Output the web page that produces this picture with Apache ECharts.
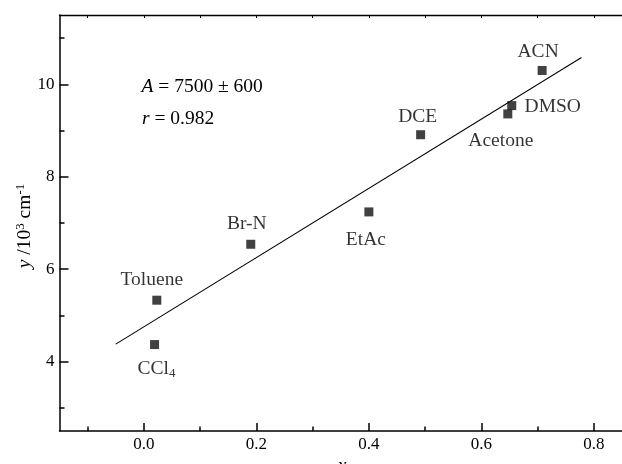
<!DOCTYPE html>
<html>
<head>
<meta charset="utf-8">
<script src="https://cdn.jsdelivr.net/npm/echarts@6/dist/echarts.min.js"></script>
<style>
html,body{margin:0;padding:0;background:#fff;}
#chart{width:622px;height:464px;}
</style>
</head>
<body>
<div id="chart"></div>
<script>
// ---- data ----
const solvents = ['Toluene', 'CCl4', 'Br-N', 'EtAc', 'DCE', 'Acetone', 'DMSO', 'ACN'];
const xValues  = [0.023, 0.019, 0.190, 0.400, 0.492, 0.647, 0.654, 0.708];
const yValues  = [5.33, 4.37, 6.54, 7.24, 8.91, 9.36, 9.54, 10.30];
const fitX = [-0.05, 0.778];
const fitY = [4.38, 10.58];
const xMajorTicks = [0.0, 0.2, 0.4, 0.6, 0.8];
const xMinorTicks = [-0.1, 0.1, 0.3, 0.5, 0.7];
const yMajorTicks = [4, 6, 8, 10];
const yMinorTicks = [3, 5, 7, 9, 11];
const annotationLines = ['{i|A} = 7500 ± 600', '{i|r} = 0.982'];

// ---- styling ----
const FONT = '"Liberation Serif", "Times New Roman", serif';
const INK = '#000';
const labelOffsets = {
  'Toluene': [-5, -20], 'CCl4': [2, 24], 'Br-N': [-4, -20], 'EtAc': [-3, 28],
  'DCE': [-3, -18], 'Acetone': [-7, 27], 'DMSO': [41, 1], 'ACN': [-4, -19]
};
const labelText = { 'CCl4': 'CCl{sub|4}' };

const points = solvents.map((n, i) => ({
  name: n,
  value: [xValues[i], yValues[i]],
  label: { offset: labelOffsets[n], formatter: labelText[n] || n }
}));

const chart = echarts.init(document.getElementById('chart'), null, {renderer: 'canvas'});
const GRID = { left: 59.5, top: 15, right: -3.5, bottom: 33 };
const axisLine = { show: true, onZero: false, lineStyle: { color: INK, width: 1.5 } };
const hiddenLine = { show: false, onZero: false };
const fmt1 = v => v.toFixed(1);

chart.setOption({
  animation: false,
  backgroundColor: '#fff',
  grid: Object.assign({ containLabel: false }, GRID),
  xAxis: [
    { type: 'value', min: -0.15, max: 0.85, position: 'bottom',
      axisLine: axisLine, splitLine: { show: false },
      axisTick: { show: true, inside: true, length: 8, customValues: xMajorTicks, lineStyle: { color: INK, width: 1.5 } },
      axisLabel: { show: true, customValues: xMajorTicks, formatter: fmt1, margin: 5, color: INK, fontFamily: FONT, fontSize: 17 } },
    { type: 'value', min: -0.15, max: 0.85, position: 'bottom',
      axisLine: hiddenLine, splitLine: { show: false },
      axisTick: { show: true, inside: true, length: 4.5, customValues: xMinorTicks, lineStyle: { color: INK, width: 1.5 } },
      axisLabel: { show: false } },
    { type: 'value', min: -0.15, max: 0.85, position: 'top',
      axisLine: { show: true, onZero: false, lineStyle: { color: INK, width: 1.3 } }, splitLine: { show: false },
      axisTick: { show: true, inside: true, length: 3, customValues: xMajorTicks.concat(xMinorTicks), lineStyle: { color: INK, width: 1 } },
      axisLabel: { show: false } }
  ],
  yAxis: [
    { type: 'value', min: 2.5, max: 11.5, position: 'left',
      axisLine: axisLine, splitLine: { show: false },
      axisTick: { show: true, inside: true, length: 9, customValues: yMajorTicks, lineStyle: { color: INK, width: 1.5 } },
      axisLabel: { show: true, customValues: yMajorTicks, margin: 5, color: INK, fontFamily: FONT, fontSize: 17 } },
    { type: 'value', min: 2.5, max: 11.5, position: 'left',
      axisLine: hiddenLine, splitLine: { show: false },
      axisTick: { show: true, inside: true, length: 5, customValues: yMinorTicks, lineStyle: { color: INK, width: 1.5 } },
      axisLabel: { show: false } }
  ],
  series: [
    { type: 'line', xAxisIndex: 0, yAxisIndex: 0,
      data: fitX.map((x, i) => [x, fitY[i]]),
      showSymbol: false, symbol: 'none',
      lineStyle: { color: INK, width: 1.1 }, z: 2 },
    { type: 'scatter', xAxisIndex: 0, yAxisIndex: 0,
      data: points, symbol: 'rect', symbolSize: 9,
      itemStyle: { color: '#111' },
      label: { show: true, position: 'inside', align: 'center', verticalAlign: 'middle',
        color: INK, fontFamily: FONT, fontSize: 19.5,
        rich: { sub: { fontFamily: FONT, fontSize: 13, color: INK, verticalAlign: 'bottom', padding: [10, 0, 0, 0] } } },
      z: 3 }
  ],
  graphic: [
    { type: 'text', left: 141.5, top: 77,
      style: { text: annotationLines[0], fill: INK, font: '19.5px ' + FONT,
        rich: { i: { fontStyle: 'italic', fontFamily: FONT, fontSize: 19.5, fill: INK } } } },
    { type: 'text', left: 142, top: 109,
      style: { text: annotationLines[1], fill: INK, font: '19.5px ' + FONT,
        rich: { i: { fontStyle: 'italic', fontFamily: FONT, fontSize: 19.5, fill: INK } } } },
    { type: 'text', x: 25, y: 226, rotation: Math.PI / 2,
      style: { text: '{i|y} /10{sup|3} cm{sup|-1}', align: 'center', verticalAlign: 'middle', fill: INK, font: '19.5px ' + FONT,
        rich: { i: { fontStyle: 'italic', fontFamily: FONT, fontSize: 19.5, fill: INK },
                sup: { fontFamily: FONT, fontSize: 13, fill: INK, verticalAlign: 'top', padding: [0, 0, 9, 0] } } } },
    { type: 'text', x: 342, y: 466,
      style: { text: 'x', align: 'center', verticalAlign: 'middle', fill: INK, font: 'italic 19.5px ' + FONT } }
  ]
});
</script>
</body>
</html>
